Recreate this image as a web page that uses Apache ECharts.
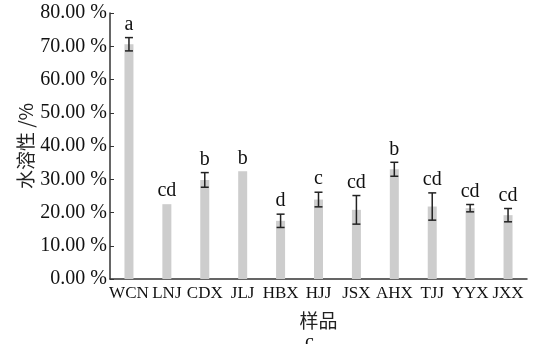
<!DOCTYPE html>
<html>
<head>
<meta charset="utf-8">
<script src="https://cdn.jsdelivr.net/npm/echarts@6/dist/echarts.min.js"></script>
<style>
  html, body { margin: 0; padding: 0; background: #fff; }
  #chart { width: 539px; height: 344px; }
</style>
</head>
<body>
<div id="chart"></div>
<script>
// 样品名称
const samples = ['WCN', 'LNJ', 'CDX', 'JLJ', 'HBX', 'HJJ', 'JSX', 'AHX', 'TJJ', 'YYX', 'JXX'];
// 水溶性均值 (%)
const solubility = [70.6, 22.5, 29.8, 32.4, 17.5, 23.9, 20.8, 33.0, 21.8, 21.3, 19.2];
// 标准差
const errors = [2.0, 0, 2.2, 0, 2.0, 2.2, 4.3, 2.1, 4.1, 1.1, 2.0];
// 显著性字母
const letters = ['a', 'cd', 'b', 'b', 'd', 'c', 'cd', 'b', 'cd', 'cd', 'cd'];
// y轴刻度
const yTicks = [0, 10, 20, 30, 40, 50, 60, 70, 80];

const serif = 'Liberation Serif';
const chart = echarts.init(document.getElementById('chart'));

const errData = samples.map((s, i) => [i, solubility[i], errors[i], letters[i]]);

const option = {
  backgroundColor: '#fff',
  animation: false,
  grid: { left: 110, right: 12, top: 13, bottom: 65 },
  xAxis: {
    type: 'category',
    data: samples,
    name: '样品',
    nameLocation: 'middle',
    nameGap: 32,
    nameTextStyle: { fontFamily: 'Noto Sans CJK SC', fontSize: 19, color: '#222' },
    axisLine: { lineStyle: { color: '#333', width: 1.5 } },
    axisTick: { inside: true, length: 4, lineStyle: { color: '#333' } },
    axisLabel: { fontFamily: serif, fontSize: 17, color: '#111', margin: 6, interval: 0 }
  },
  yAxis: {
    type: 'value',
    min: yTicks[0],
    max: yTicks[yTicks.length - 1],
    interval: 10,
    name: '水溶性 /%',
    nameLocation: 'middle',
    nameRotate: 90,
    nameGap: 75,
    nameMoveOverlap: false,
    nameTextStyle: { fontFamily: 'Noto Sans CJK SC', fontSize: 19, color: '#222' },
    axisLine: { show: true, lineStyle: { color: '#333', width: 1.5 } },
    axisTick: { show: true, inside: true, length: 4, lineStyle: { color: '#333' } },
    splitLine: { show: false },
    axisLabel: {
      fontFamily: serif, fontSize: 20, color: '#111', margin: 3,
      formatter: v => v.toFixed(2) + ' %'
    }
  },
  series: [
    {
      type: 'bar',
      data: solubility,
      barWidth: 9,
      itemStyle: { color: '#cdcdcd' }
    },
    {
      type: 'custom',
      data: errData,
      z: 10,
      renderItem: (params, api) => {
        const i = api.value(0);
        const mean = api.value(1);
        const err = api.value(2);
        const top = api.coord([i, mean + err]);
        const bot = api.coord([i, mean - err]);
        const hw = 4;
        const style = { stroke: '#222', lineWidth: 1.5 };
        const children = [];
        if (err > 0) {
          children.push(
            { type: 'line', shape: { x1: top[0], y1: top[1], x2: bot[0], y2: bot[1] }, style },
            { type: 'line', shape: { x1: top[0] - hw, y1: top[1], x2: top[0] + hw, y2: top[1] }, style },
            { type: 'line', shape: { x1: bot[0] - hw, y1: bot[1], x2: bot[0] + hw, y2: bot[1] }, style }
          );
        }
        children.push({
          type: 'text',
          x: top[0],
          y: top[1] - 3,
          style: {
            text: letters[i],
            fontFamily: serif,
            fontSize: 20,
            fill: '#111',
            align: 'center',
            verticalAlign: 'bottom'
          }
        });
        return { type: 'group', children };
      }
    }
  ],
  graphic: [
    {
      type: 'text',
      left: 305,
      top: 333,
      style: { text: 'c', fontFamily: serif, fontSize: 20, fill: '#111' }
    }
  ]
};

chart.setOption(option);
</script>
</body>
</html>
